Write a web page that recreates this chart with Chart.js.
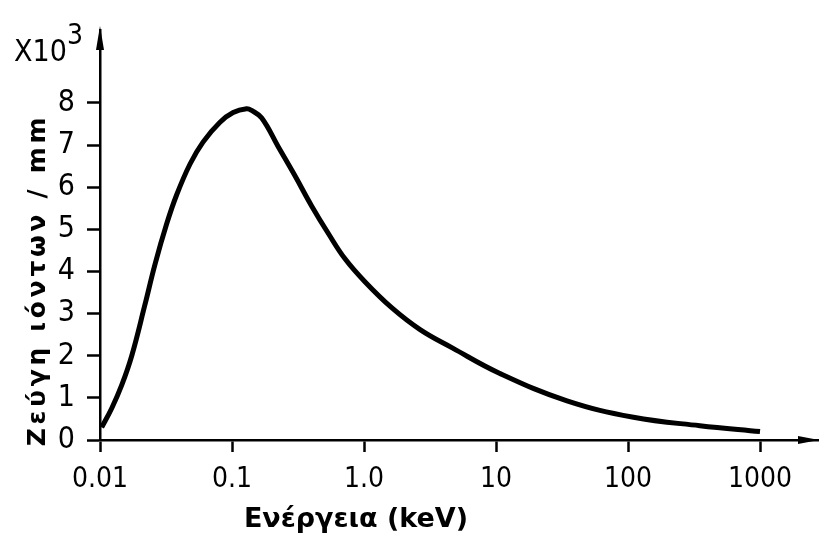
<!DOCTYPE html>
<html>
<head>
<meta charset="utf-8">
<script src="https://cdn.jsdelivr.net/npm/chart.js@4/dist/chart.umd.min.js"></script>
<style>
  html, body { margin: 0; padding: 0; background: #fff; }
  #wrap { width: 820px; height: 536px; position: relative; }
</style>
</head>
<body>
<div id="wrap"><canvas id="myChart"></canvas></div>
<script>
// energy in keV and ion pairs per mm (x10^3)
const energies = [0.0103, 0.0123, 0.0146, 0.0174, 0.0219, 0.0261, 0.032, 0.0381, 0.0481, 0.0603, 0.0811, 0.102, 0.129, 0.141, 0.168, 0.224, 0.3, 0.402, 0.537, 0.718, 1.02, 1.62, 2.66, 4.7, 10.7, 34.5, 110, 350, 1000];
const ionPairs = [0.3, 0.76, 1.3, 2.0, 3.21, 4.17, 5.13, 5.82, 6.55, 7.07, 7.54, 7.77, 7.86, 7.82, 7.64, 6.96, 6.27, 5.55, 4.9, 4.3, 3.75, 3.14, 2.62, 2.18, 1.58, 0.93, 0.54, 0.34, 0.2];

const xTickValues = [0.01, 0.1, 1, 10, 100, 1000];
const xTickLabels = ["0.01", "0.1", "1.0", "10", "100", "1000"];
const yTickValues = [0, 1, 2, 3, 4, 5, 6, 7, 8];

const xTitle = "Ενέργεια (keV)";
const yTitle = "Ζεύγη ιόντων / mm";
const yFactor = ["X10", "3"];

const ink = "#000";
const family = "'DejaVu Sans Condensed', 'DejaVu Sans'";

// arrows on the axes, the x10^3 factor and the axis titles
const decorations = {
  id: "decorations",
  afterDraw(chart) {
    const c = chart.ctx;
    const a = chart.chartArea;
    c.save();
    c.fillStyle = ink;

    // arrow heads
    c.beginPath();
    c.moveTo(a.left, a.top - 4);
    c.lineTo(a.left - 4, a.top + 20);
    c.lineTo(a.left + 4, a.top + 20);
    c.closePath();
    c.fill();
    c.beginPath();
    c.moveTo(a.right + 1, a.bottom);
    c.lineTo(a.right - 20, a.bottom - 4);
    c.lineTo(a.right - 20, a.bottom + 4);
    c.closePath();
    c.fill();

    // x10^3
    c.textBaseline = "alphabetic";
    c.textAlign = "left";
    c.font = "30px " + family;
    c.fillText(yFactor[0], 14, 61);
    c.font = "28px " + family;
    c.fillText(yFactor[1], 67, 44);

    // x title
    c.font = "bold 27px 'DejaVu Sans'";
    c.letterSpacing = "0px";
    c.textAlign = "center";
    c.fillText(xTitle, 356, 527);

    // y title
    c.font = "bold 25px 'DejaVu Sans'";
    c.letterSpacing = "3.7px";
    c.translate(45, 280);
    c.rotate(-Math.PI / 2);
    c.fillText(yTitle, 0, 0);
    c.restore();
  }
};

new Chart(document.getElementById("myChart"), {
  type: "line",
  data: {
    datasets: [
      {
        data: energies.map((e, i) => ({ x: e, y: ionPairs[i] })),
        borderColor: ink,
        borderWidth: 5,
        pointRadius: 0,
        fill: false,
        tension: 0.4,
      },
    ],
  },
  options: {
    responsive: true,
    maintainAspectRatio: false,
    animation: false,
    layout: { padding: { top: 12, right: 2, left: 0, bottom: 0 } },
    plugins: {
      legend: { display: false },
      tooltip: { enabled: false },
    },
    scales: {
      x: {
        type: "logarithmic",
        min: 0.01,
        max: 2750,
        afterBuildTicks: (scale) => {
          scale.ticks = xTickValues.map((v) => ({ value: v }));
        },
        afterFit: (scale) => {
          scale.height = 96;
        },
        grid: {
          drawOnChartArea: false,
          tickLength: 12,
          tickColor: ink,
          tickWidth: 2.5,
        },
        border: { display: true, color: ink, width: 2.5 },
        ticks: {
          autoSkip: false,
          maxRotation: 0,
          padding: 11,
          color: ink,
          font: { family: family, size: 28 },
          callback: (value) => {
            const i = xTickValues.indexOf(value);
            return i >= 0 ? xTickLabels[i] : "";
          },
        },
      },
      y: {
        min: 0,
        max: 9.73,
        afterBuildTicks: (scale) => {
          scale.ticks = yTickValues.map((v) => ({ value: v }));
        },
        afterFit: (scale) => {
          scale.width = 100;
        },
        grid: {
          drawOnChartArea: false,
          tickLength: 13,
          tickColor: ink,
          tickWidth: 2.5,
        },
        border: { display: true, color: ink, width: 2.5 },
        ticks: {
          padding: 12,
          color: ink,
          font: { family: family, size: 30 },
          callback: (value) => String(value),
        },
      },
    },
  },
  plugins: [decorations],
});
</script>
</body>
</html>
